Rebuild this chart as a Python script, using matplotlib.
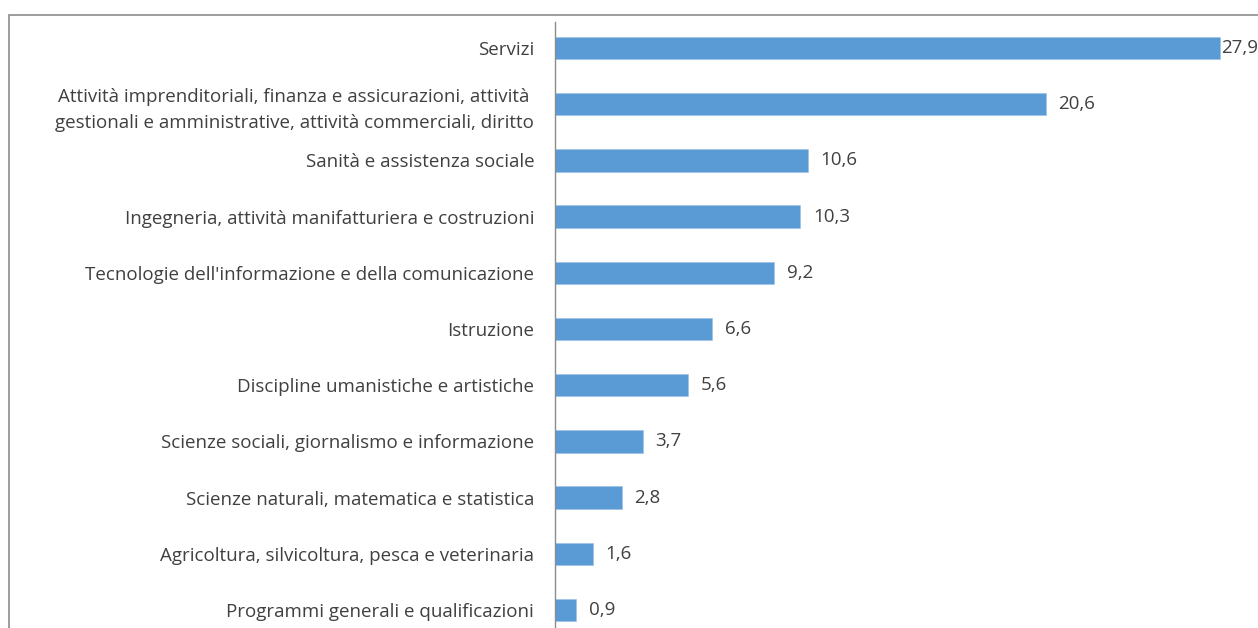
import matplotlib
matplotlib.use('Agg')
import matplotlib.pyplot as plt
from matplotlib.patches import Rectangle

categories = [
    'Servizi',
    'Attività imprenditoriali, finanza e assicurazioni, attività \ngestionali e amministrative, attività commerciali, diritto',
    'Sanità e assistenza sociale',
    'Ingegneria, attività manifatturiera e costruzioni',
    "Tecnologie dell'informazione e della comunicazione",
    'Istruzione',
    'Discipline umanistiche e artistiche',
    'Scienze sociali, giornalismo e informazione',
    'Scienze naturali, matematica e statistica',
    'Agricoltura, silvicoltura, pesca e veterinaria',
    'Programmi generali e qualificazioni',
]
values = [27.9, 20.6, 10.6, 10.3, 9.2, 6.6, 5.6, 3.7, 2.8, 1.6, 0.9]

W, H = 1258, 628
text_color = '#404040'
plt.rcParams['font.family'] = ['Open Sans', 'DejaVu Sans']

fig = plt.figure(figsize=(W / 100, H / 100), dpi=100)

# outer chart border (cropped at right and bottom)
fig.patches.append(Rectangle((9 / W, -0.1), 1.2, (H - 15) / H + 0.1,
                             transform=fig.transFigure, fill=False,
                             edgecolor='#8c8c8c', linewidth=1.2))

ax = fig.add_axes([555 / W, 0, (W - 555) / W, (H - 22) / H])
y = list(range(len(values)))
ax.barh(y, values, height=0.4, color='#5B9BD5', edgecolor='#9dc3e6', linewidth=0.5)
ax.set_xlim(0, (W - 555) / 23.83)
ax.set_ylim(10.32, -0.463)

ax.set_yticks(y)
ax.set_yticklabels(categories, fontsize=13.5, color=text_color, linespacing=1.55)
ax.tick_params(axis='y', length=0, pad=15)
ax.set_xticks([])
for s in ['top', 'right', 'bottom']:
    ax.spines[s].set_visible(False)
ax.spines['left'].set_color('#8c8c8c')
ax.spines['left'].set_linewidth(1)

for i, v in enumerate(values):
    off = 1 if i == 0 else 9
    ax.annotate(f'{v:.1f}'.replace('.', ','), (v, i), xytext=(off, 0),
                textcoords='offset points', va='center', ha='left',
                fontsize=13.5, color=text_color, annotation_clip=False)

fig.savefig('out.png', dpi=100)
